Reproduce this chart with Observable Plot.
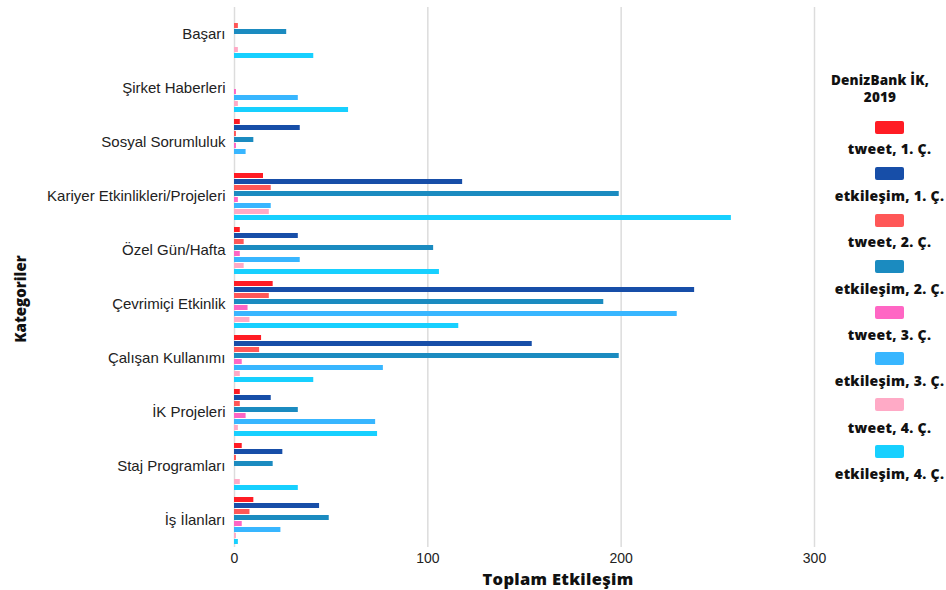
<!DOCTYPE html>
<html><head><meta charset="utf-8">
<script src="https://cdn.jsdelivr.net/npm/d3@7"></script>
<script src="https://cdn.jsdelivr.net/npm/@observablehq/plot@0.6"></script>
<style>
body{margin:0;background:#fff;}
#wrap{position:relative;width:946px;height:590px;}
.bt{position:absolute;font-family:"Open Sans",sans-serif;font-weight:800;color:#111;white-space:nowrap;}
.sw{position:absolute;width:29px;height:13px;border-radius:2px;}
</style></head><body><div id="wrap"></div>
<script>
const categories = ["Başarı","Şirket Haberleri","Sosyal Sorumluluk","Kariyer Etkinlikleri/Projeleri","Özel Gün/Hafta","Çevrimiçi Etkinlik","Çalışan Kullanımı","İK Projeleri","Staj Programları","İş İlanları"];
const seriesNames = ["tweet, 1. Ç.","etkileşim, 1. Ç.","tweet, 2. Ç.","etkileşim, 2. Ç.","tweet, 3. Ç.","etkileşim, 3. Ç.","tweet, 4. Ç.","etkileşim, 4. Ç."];
const seriesColors = ["#ff1c24","#174ea8","#ff5757","#1b8bc0","#ff66c4","#38b6ff","#ffaac6","#17d0ff"];
const tweet1 = [0,0,3,15,3,20,14,3,4,10];
const etk1   = [0,0,34,118,33,238,154,19,25,44];
const tweet2 = [2,0,1,19,5,18,13,3,1,8];
const etk2   = [27,0,10,199,103,191,199,33,20,49];
const tweet3 = [0,1,1,2,3,7,4,6,0,4];
const etk3   = [0,33,6,19,34,229,77,73,0,24];
const tweet4 = [2,2,0,18,5,8,3,2,3,1];
const etk4   = [41,59,0,257,106,116,41,74,33,2];
const xTicks = [0,100,200,300];
const legendTitle = ["DenizBank İK,","2019"];
const xTitle = "Toplam Etkileşim";
const yTitle = "Kategoriler";

const seriesValues = [tweet1,etk1,tweet2,etk2,tweet3,etk3,tweet4,etk4];
const rows = [];
seriesValues.forEach((vals,i)=>vals.forEach((v,j)=>rows.push({category:categories[j],series:seriesNames[i],value:v})));

const chart = Plot.plot({
  width: 946, height: 590,
  marginLeft: 234, marginRight: 132, marginTop: 6, marginBottom: 43,
  style: {fontFamily: "Liberation Sans, Arial, sans-serif", fontSize: "15px", color: "#222", background: "#fff"},
  x: {domain: [0,300], ticks: xTicks, tickSize: 0, tickPadding: 6, label: null},
  fy: {domain: categories, padding: 0, tickSize: 0, tickPadding: 9, label: null, axis: "left"},
  y: {domain: seriesNames, axis: null, paddingInner: 0.22, paddingOuter: 0.33},
  color: {domain: seriesNames, range: seriesColors},
  marks: [
    Plot.ruleX(xTicks, {stroke: "#dcdcdc", strokeWidth: 1.5}),
    Plot.barX(rows, {x: "value", y: "series", fy: "category", fill: "series"})
  ]
});
const wrap = document.getElementById("wrap");
wrap.appendChild(chart);
d3.select(chart).selectAll('[aria-label^="x-axis"] text').attr("font-size", 14);

function addText(txt, left, top, size, extra, ls){
  const d = document.createElement("div");
  d.className = "bt"; d.textContent = txt;
  d.style.fontSize = size + "px";
  if (ls) d.style.letterSpacing = ls + "px";
  d.style.left = left + "px"; d.style.top = top + "px";
  d.style.transform = extra || "translate(-50%,-50%)";
  wrap.appendChild(d);
}
addText(xTitle, 558, 578, 16.5, null, 0.3);
addText(yTitle, 20, 299, 15, "translate(-50%,-50%) rotate(-90deg)");
legendTitle.forEach((t,i)=>addText(t, 880, 80 + i*17, 13.5, null, 0.2));
seriesNames.forEach((s,i)=>{
  const sw = document.createElement("div");
  sw.className = "sw"; sw.style.background = seriesColors[i];
  sw.style.left = (889.5-14.5) + "px"; sw.style.top = (127.7 + i*46.2 - 6.5) + "px";
  wrap.appendChild(sw);
  addText(s, 889.5, 148.3 + i*46.4, 14, null, 0.3);
});
</script></body></html>
